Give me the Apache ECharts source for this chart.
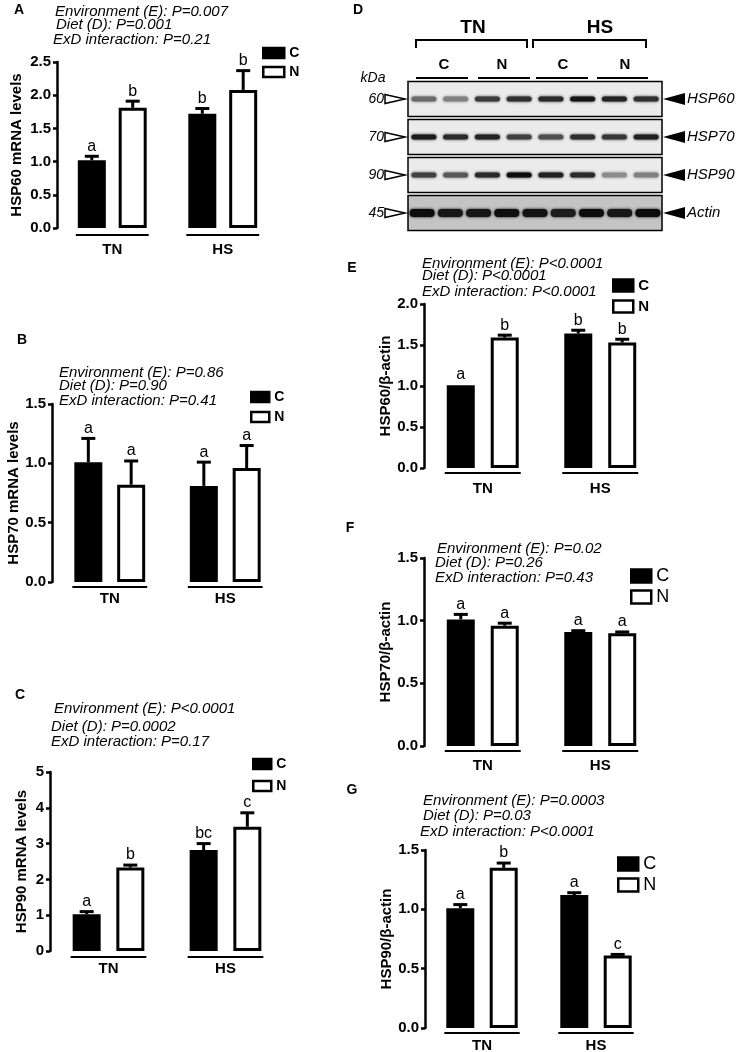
<!DOCTYPE html>
<html lang="en">
<head>
<meta charset="UTF-8">
<title>HSP expression</title>
<style>
    html, body { margin: 0; padding: 0; background: #fff; }
    #main { width: 737px; height: 1052px; }
</style>
</head>
<body>
<div id="main"></div>
<script src="https://cdn.jsdelivr.net/npm/echarts/dist/echarts.min.js"></script>
<script>
// ---- data ----
var groups = ['TN', 'HS'];

// A: HSP60 mRNA
var aCtrl = [1.02, 1.72], aCtrlErr = [0.06, 0.08], aCtrlLet = ['a', 'b'];
var aNano = [1.81, 2.08], aNanoErr = [0.10, 0.29], aNanoLet = ['b', 'b'];
var aStats = ['Environment (E): P=0.007', 'Diet (D): P=0.001', 'ExD interaction: P=0.21'];

// B: HSP70 mRNA
var bCtrl = [1.01, 0.81], bCtrlErr = [0.20, 0.20], bCtrlLet = ['a', 'a'];
var bNano = [0.82, 0.96], bNanoErr = [0.20, 0.19], bNanoLet = ['a', 'a'];
var bStats = ['Environment (E): P=0.86', 'Diet (D): P=0.90', 'ExD interaction: P=0.41'];

// C: HSP90 mRNA
var cCtrl = [1.03, 2.82], cCtrlErr = [0.07, 0.18], cCtrlLet = ['a', 'bc'];
var cNano = [2.33, 3.47], cNanoErr = [0.07, 0.39], cNanoLet = ['b', 'c'];
var cStats = ['Environment (E): P<0.0001', 'Diet (D): P=0.0002', 'ExD interaction: P=0.17'];

// E: HSP60 / actin
var eCtrl = [1.01, 1.64], eCtrlErr = [0, 0.04], eCtrlLet = ['a', 'b'];
var eNano = [1.59, 1.53], eNanoErr = [0.03, 0.04], eNanoLet = ['b', 'b'];
var eStats = ['Environment (E): P<0.0001', 'Diet (D): P<0.0001', 'ExD interaction: P<0.0001'];

// F: HSP70 / actin
var fCtrl = [1.01, 0.91], fCtrlErr = [0.04, 0.01], fCtrlLet = ['a', 'a'];
var fNano = [0.96, 0.90], fNanoErr = [0.02, 0.01], fNanoLet = ['a', 'a'];
var fStats = ['Environment (E): P=0.02', 'Diet (D): P=0.26', 'ExD interaction: P=0.43'];

// G: HSP90 / actin
var gCtrl = [1.01, 1.12], gCtrlErr = [0.03, 0.02], gCtrlLet = ['a', 'a'];
var gNano = [1.35, 0.61], gNanoErr = [0.04, 0.01], gNanoLet = ['b', 'c'];
var gStats = ['Environment (E): P=0.0003', 'Diet (D): P=0.03', 'ExD interaction: P<0.0001'];

// D: western blot, band darkness 0..1 per lane
var blotRows = ['HSP60', 'HSP70', 'HSP90', 'Actin'];
var blotKda = ['60', '70', '90', '45'];
var hsp60Bands = [0.55, 0.45, 0.75, 0.8, 0.82, 0.9, 0.85, 0.8];
var hsp70Bands = [0.88, 0.82, 0.85, 0.72, 0.66, 0.8, 0.76, 0.86];
var hsp90Bands = [0.72, 0.62, 0.82, 0.95, 0.86, 0.82, 0.4, 0.45];
var actinBands = [0.95, 0.9, 0.9, 0.93, 0.92, 0.88, 0.95, 0.9, 0.95];

var fontFam = "'Liberation Sans', Arial, sans-serif";
var BAR_W = 28;

var panels = [
    {ctrl: aCtrl, ctrlErr: aCtrlErr, ctrlLet: aCtrlLet, nano: aNano, nanoErr: aNanoErr, nanoLet: aNanoLet,
        name: 'HSP60 mRNA levels', max: 2.5, step: 0.5, dec: 1,
        grid: {left: 57, top: 62, width: 221, height: 166}, gap: 0.46, nameGap: 33, xMargin: 14, lineOff: 7,
        legend: {left: 262, top: 46, w: 21, h: 10, gap: 5, bold: true, size: 14},
        tag: 'A', tagPos: [19, 10], stats: aStats, sx: [55, 56, 53], sy: [12, 25, 40]},
    {ctrl: bCtrl, ctrlErr: bCtrlErr, ctrlLet: bCtrlLet, nano: bNano, nanoErr: bNanoErr, nanoLet: bNanoLet,
        name: 'HSP70 mRNA levels', max: 1.5, step: 0.5, dec: 1,
        grid: {left: 52, top: 404, width: 231, height: 178}, gap: 0.53, nameGap: 28, xMargin: 9, lineOff: 5,
        legend: {left: 250, top: 390, w: 18, h: 10, gap: 6, bold: true, size: 14},
        tag: 'B', tagPos: [22, 340], stats: bStats, sx: [59, 59, 59], sy: [373, 386, 401]},
    {ctrl: cCtrl, ctrlErr: cCtrlErr, ctrlLet: cCtrlLet, nano: cNano, nanoErr: cNanoErr, nanoLet: cNanoLet,
        name: 'HSP90 mRNA levels', max: 5, step: 1, dec: 0,
        grid: {left: 50, top: 772, width: 234, height: 179}, gap: 0.56, nameGap: 21, xMargin: 10, lineOff: 6,
        legend: {left: 252, top: 757, w: 18, h: 10, gap: 8, bold: true, size: 14},
        tag: 'C', tagPos: [20, 695], stats: cStats, sx: [54, 51, 51], sy: [709, 727, 742]},
    {ctrl: eCtrl, ctrlErr: eCtrlErr, ctrlLet: eCtrlLet, nano: eNano, nanoErr: eNanoErr, nanoLet: eNanoLet,
        name: 'HSP60/\u03b2-actin', max: 2.0, step: 0.5, dec: 1,
        grid: {left: 424, top: 304, width: 235, height: 164}, gap: 0.57, nameGap: 30, xMargin: 13, lineOff: 5,
        legend: {left: 612, top: 278, w: 20, h: 12, gap: 6, bold: true, size: 15},
        tag: 'E', tagPos: [352, 268], stats: eStats, sx: [422, 422, 422], sy: [264, 276, 292]},
    {ctrl: fCtrl, ctrlErr: fCtrlErr, ctrlLet: fCtrlLet, nano: fNano, nanoErr: fNanoErr, nanoLet: fNanoLet,
        name: 'HSP70/\u03b2-actin', max: 1.5, step: 0.5, dec: 1,
        grid: {left: 424, top: 558, width: 235, height: 188}, gap: 0.57, nameGap: 30, xMargin: 12, lineOff: 5,
        legend: {left: 630, top: 567, w: 20, h: 13, gap: 3, bold: false, size: 18},
        tag: 'F', tagPos: [350, 528], stats: fStats, sx: [437, 435, 435], sy: [549, 563, 578]},
    {ctrl: gCtrl, ctrlErr: gCtrlErr, ctrlLet: gCtrlLet, nano: gNano, nanoErr: gNanoErr, nanoLet: gNanoLet,
        name: 'HSP90/\u03b2-actin', max: 1.5, step: 0.5, dec: 1,
        grid: {left: 425, top: 850, width: 228, height: 178}, gap: 0.55, nameGap: 29, xMargin: 10, lineOff: 5,
        legend: {left: 617, top: 855, w: 20, h: 13, gap: 3, bold: false, size: 18},
        tag: 'G', tagPos: [352, 790], stats: gStats, sx: [423, 423, 420], sy: [801, 816, 832]}
];

// error bar + significance letter, drawn through the axis scales
function errorRender(gap, side, letters) {
    var shift = side * BAR_W * (1 + gap) / 2;
    return function (params, api) {
        var cat = api.value(0), mean = api.value(1), err = api.value(2);
        var base = api.coord([cat, mean]);
        var top = api.coord([cat, mean + err]);
        var x = base[0] + shift;
        var kids = [];
        if (err > 0) {
            kids.push({type: 'line', shape: {x1: x, y1: base[1], x2: x, y2: top[1]},
                style: {stroke: '#000', lineWidth: 3}});
            kids.push({type: 'line', shape: {x1: x - 7, y1: top[1], x2: x + 7, y2: top[1]},
                style: {stroke: '#000', lineWidth: 3}});
        }
        kids.push({type: 'text', x: x, y: top[1] - (err > 0 ? 2 : 3),
            style: {text: letters[params.dataIndex], textAlign: 'center', textVerticalAlign: 'bottom',
                font: '16px ' + fontFam, fill: '#000'}});
        return {type: 'group', children: kids};
    };
}

// line under each TN / HS group
function groupLine(gap, off) {
    var half = BAR_W * (1 + gap) / 2 + BAR_W / 2 + 2;
    return function (params, api) {
        var p = api.coord([api.value(0), 0]);
        return {type: 'line', shape: {x1: p[0] - half, y1: p[1] + off, x2: p[0] + half, y2: p[1] + off},
            style: {stroke: '#000', lineWidth: 2}};
    };
}

var grids = [], xAxes = [], yAxes = [], series = [], legends = [], graphics = [];

panels.forEach(function (p, i) {
    grids.push({left: p.grid.left, top: p.grid.top, width: p.grid.width, height: p.grid.height,
        containLabel: false, outerBoundsMode: 'none'});
    xAxes.push({
        gridIndex: i, type: 'category', data: groups,
        axisLine: {show: false}, axisTick: {show: false}, splitLine: {show: false},
        axisLabel: {margin: p.xMargin, color: '#000', fontWeight: 'bold', fontSize: 15, fontFamily: fontFam}
    });
    yAxes.push({
        gridIndex: i, type: 'value', min: 0, max: p.max, interval: p.step,
        name: p.name, nameLocation: 'middle', nameGap: p.nameGap,
        nameTextStyle: {color: '#000', fontWeight: 'bold', fontSize: 15, fontFamily: fontFam},
        axisLine: {show: true, lineStyle: {color: '#000', width: 2.5}},
        axisTick: {show: true, length: 4, lineStyle: {color: '#000', width: 2.5}},
        splitLine: {show: false},
        axisLabel: {margin: 6, color: '#000', fontWeight: 'bold', fontSize: 15, fontFamily: fontFam,
            formatter: function (v) { return v.toFixed(p.dec); }}
    });
    series.push({
        name: 'C', type: 'bar', xAxisIndex: i, yAxisIndex: i, barWidth: BAR_W,
        barGap: Math.round(p.gap * 100) + '%', z: 2,
        itemStyle: {color: '#000', borderColor: '#000', borderWidth: 3},
        data: p.ctrl
    });
    series.push({
        name: 'N', type: 'bar', xAxisIndex: i, yAxisIndex: i, barWidth: BAR_W,
        barGap: Math.round(p.gap * 100) + '%', z: 2,
        itemStyle: {color: '#fff', borderColor: '#000', borderWidth: 3},
        data: p.nano
    });
    series.push({
        name: 'errC', type: 'custom', xAxisIndex: i, yAxisIndex: i, z: 3, silent: true,
        renderItem: errorRender(p.gap, -1, p.ctrlLet),
        data: p.ctrl.map(function (v, k) { return [k, v, p.ctrlErr[k]]; })
    });
    series.push({
        name: 'errN', type: 'custom', xAxisIndex: i, yAxisIndex: i, z: 3, silent: true,
        renderItem: errorRender(p.gap, 1, p.nanoLet),
        data: p.nano.map(function (v, k) { return [k, v, p.nanoErr[k]]; })
    });
    series.push({
        name: 'groupLine', type: 'custom', xAxisIndex: i, yAxisIndex: i, silent: true,
        renderItem: groupLine(p.gap, p.lineOff),
        data: groups.map(function (g, k) { return [k, 0]; })
    });
    legends.push({
        left: p.legend.left, top: p.legend.top, orient: 'vertical', padding: 0,
        itemWidth: p.legend.w, itemHeight: p.legend.h, itemGap: p.legend.gap,
        selectedMode: false, icon: 'rect', data: ['C', 'N'],
        itemStyle: {borderColor: '#000', borderWidth: 2.5},
        textStyle: {color: '#000', fontFamily: fontFam, fontSize: p.legend.size,
            fontWeight: p.legend.bold ? 'bold' : 'normal'}
    });
    graphics.push({type: 'text', x: p.tagPos[0], y: p.tagPos[1],
        style: {text: p.tag, textAlign: 'center', textVerticalAlign: 'middle',
            font: 'bold 14px ' + fontFam, fill: '#000'}});
    p.stats.forEach(function (s, k) {
        graphics.push({type: 'text', x: p.sx[k], y: p.sy[k],
            style: {text: s, textVerticalAlign: 'middle', font: 'italic 15px ' + fontFam, fill: '#000'}});
    });
});

// ---- panel D: western blot ----
var blotIdx = panels.length;
grids.push({left: 408, top: 80, width: 254, height: 152, containLabel: false, outerBoundsMode: 'none'});
xAxes.push({gridIndex: blotIdx, type: 'value', min: 0, max: 8, show: false});
yAxes.push({gridIndex: blotIdx, type: 'value', min: 0, max: 4, inverse: true, show: false});

var bandData = [];
[hsp60Bands, hsp70Bands, hsp90Bands, actinBands].forEach(function (arr, r) {
    arr.forEach(function (v, k) {
        bandData.push([(k + 0.5) * 8 / arr.length, r, v]);
    });
});

series.push({
    name: 'blotRows', type: 'custom', xAxisIndex: blotIdx, yAxisIndex: blotIdx, silent: true, z: 1,
    renderItem: function (params, api) {
        var row = api.value(1);
        var tl = api.coord([0, row]);
        var br = api.coord([8, row + 1]);
        var yc = (tl[1] + br[1]) / 2;
        return {type: 'group', children: [
            {type: 'rect', shape: {x: tl[0], y: tl[1] + 1.5, width: br[0] - tl[0], height: br[1] - tl[1] - 3},
                style: {fill: row === 3 ? '#c4c4c4' : '#ebebeb', stroke: '#000', lineWidth: 1.5}},
            {type: 'text', x: tl[0] - 24, y: yc,
                style: {text: blotKda[row], textAlign: 'right', textVerticalAlign: 'middle',
                    font: 'italic 14px ' + fontFam, fill: '#000'}},
            {type: 'polygon', shape: {points: [[tl[0] - 23, yc - 4.5], [tl[0] - 3, yc], [tl[0] - 23, yc + 4.5]]},
                style: {fill: '#fff', stroke: '#000', lineWidth: 1.5}},
            {type: 'polygon', shape: {points: [[br[0] + 1, yc], [br[0] + 23, yc - 6], [br[0] + 23, yc + 6]]},
                style: {fill: '#000'}},
            {type: 'text', x: br[0] + 25, y: yc,
                style: {text: blotRows[row], textVerticalAlign: 'middle',
                    font: 'italic 15px ' + fontFam, fill: '#000'}}
        ]};
    },
    data: blotRows.map(function (r, k) { return [0, k]; })
});

series.push({
    name: 'blotBands', type: 'custom', xAxisIndex: blotIdx, yAxisIndex: blotIdx, silent: true, z: 2,
    renderItem: function (params, api) {
        var row = api.value(1);
        var c = api.coord([api.value(0), row + 0.5]);
        var g = Math.round(235 * (1 - api.value(2)));
        var col = 'rgb(' + g + ',' + g + ',' + g + ')';
        var w = 25, h = row === 3 ? 8 : 5;
        return {type: 'rect', shape: {x: c[0] - w / 2, y: c[1] - h / 2, width: w, height: h, r: h / 2},
            style: {fill: col, shadowBlur: 3, shadowColor: col}};
    },
    data: bandData
});

// blot headers
graphics.push({type: 'text', x: 353, y: 10, style: {text: 'D', textVerticalAlign: 'middle',
    font: 'bold 14px ' + fontFam, fill: '#000'}});
[['TN', 473], ['HS', 600]].forEach(function (h) {
    graphics.push({type: 'text', x: h[1], y: 28, style: {text: h[0], textAlign: 'center',
        textVerticalAlign: 'middle', font: 'bold 19px ' + fontFam, fill: '#000'}});
});
[[416, 527], [533, 646]].forEach(function (b) {
    graphics.push({type: 'polyline', shape: {points: [[b[0], 48], [b[0], 40], [b[1], 40], [b[1], 48]]},
        style: {stroke: '#000', lineWidth: 2, fill: null}});
});
[['C', 444, 416, 468], ['N', 502, 478, 530], ['C', 563, 536, 588], ['N', 625, 597, 648]].forEach(function (d) {
    graphics.push({type: 'text', x: d[1], y: 65, style: {text: d[0], textAlign: 'center',
        textVerticalAlign: 'middle', font: 'bold 15px ' + fontFam, fill: '#000'}});
    graphics.push({type: 'line', shape: {x1: d[2], y1: 78, x2: d[3], y2: 78},
        style: {stroke: '#000', lineWidth: 2}});
});
graphics.push({type: 'text', x: 373, y: 78, style: {text: 'kDa', textAlign: 'center',
    textVerticalAlign: 'middle', font: 'italic 14px ' + fontFam, fill: '#000'}});

var myChart = echarts.init(document.getElementById('main'), null, {renderer: 'canvas'});
myChart.setOption({
    backgroundColor: '#fff',
    animation: false,
    grid: grids,
    xAxis: xAxes,
    yAxis: yAxes,
    legend: legends,
    graphic: graphics,
    series: series
});
</script>
</body>
</html>
